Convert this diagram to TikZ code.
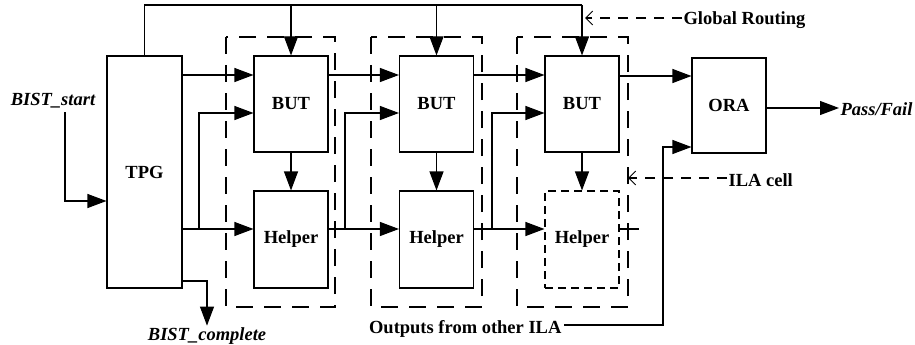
\documentclass[tikz,border=0pt]{standalone}
\usepackage{fontspec}
\setmainfont{Liberation Serif}
\usetikzlibrary{arrows.meta}
\begin{document}
\begin{tikzpicture}[x=1pt,y=-1pt,
  line width=1.1pt,
  txt/.style={font=\bfseries\fontsize{18.5}{22}\selectfont},
  block/.style={draw,rectangle,inner sep=0pt,minimum width=74pt,minimum height=96pt,txt},
  dblock/.style={block,dash pattern=on 8pt off 5pt},
  cell/.style={dash pattern=on 17pt off 11pt},
  arr/.style={-{Triangle[length=19pt,width=14pt]}},
  hint/.style={dash pattern=on 10pt off 8pt,-{Straight Barb[length=7pt,width=14pt,line width=1pt]}},
  lbl/.style={inner sep=1pt,txt},
  ilbl/.style={inner sep=1pt,font=\bfseries\itshape\fontsize{18.5}{22}\selectfont}]
\useasboundingbox (0,0) rectangle (915,345);

% ILA cells
\draw[cell] (226,37) rectangle (335,307);
\draw[cell] (371,37) rectangle (482,307);
\draw[cell] (517,37) rectangle (628,307);

% blocks
\node[block,minimum width=75pt,minimum height=232pt] (TPG) at (144.5,172) {TPG};
\node[block] (BUT1) at (291,104) {BUT};
\node[block] (BUT2) at (436.5,104) {BUT};
\node[block] (BUT3) at (582,104) {BUT};
\node[block,minimum height=97pt] (H1) at (291,239.5) {Helper};
\node[block,minimum height=97pt] (H2) at (436.5,239.5) {Helper};
\node[dblock,minimum height=97pt] (H3) at (582,239.5) {Helper};
\node[block,minimum height=95pt] (ORA) at (729,105.5) {ORA};

% labels
\node[ilbl,anchor=base] (bs) at (53,105) {BIST\_start};
\node[ilbl,anchor=base] (bc) at (207,340) {BIST\_complete};
\node[ilbl,anchor=base west] (pf) at (839,115) {Pass/Fail};
\node[lbl,anchor=base west] (grl) at (682,25) {Global Routing};
\node[lbl,anchor=base west] (ila) at (727,186) {ILA cell};
\node[lbl,anchor=base east] (out) at (563,333) {Outputs from other ILA};

% signal levels
\coordinate (top) at (0,5);
\coordinate (ya) at (0,75);
\coordinate (yb) at (0,113);
\coordinate (yh) at (0,229);
\coordinate (s1) at (199,229);
\coordinate (s2) at (345,229);
\coordinate (s3) at (492,229);
\coordinate (bsin) at (65,112);
\coordinate (ov) at (663,147);
\coordinate (oin) at (564,325);
\coordinate (grt) at (585,18);
\coordinate (ilt) at (628,178);

% global routing
\draw (TPG.north) |- (BUT3.north |- top);
\draw[arr] (BUT1.north |- top) -- (BUT1.north);
\draw[arr] (BUT2.north |- top) -- (BUT2.north);
\draw[arr] (BUT3.north |- top) -- (BUT3.north);

% TPG inputs and outputs
\draw[arr] (bsin) |- (TPG.west |- 0,201);
\draw[arr] (TPG.east |- 0,281) -| (bc.north);

% chain through the cells
\draw[arr] (TPG.east |- ya) -- (BUT1.west |- ya);
\draw[arr] (TPG.east |- yh) -- (H1.west |- yh);
\draw[arr] (s1) |- (BUT1.west |- yb);
\draw[arr] (BUT1.south) -- (H1.north);

\draw[arr] (BUT1.east |- ya) -- (BUT2.west |- ya);
\draw[arr] (H1.east |- yh) -- (H2.west |- yh);
\draw[arr] (s2) |- (BUT2.west |- yb);
\draw[arr] (BUT2.south) -- (H2.north);

\draw[arr] (BUT2.east |- ya) -- (BUT3.west |- ya);
\draw[arr] (H2.east |- yh) -- (H3.west |- yh);
\draw[arr] (s3) |- (BUT3.west |- yb);
\draw[arr] (BUT3.south) -- (H3.north);
\draw (H3.east |- yh) -- ++(19,0);

% response analysis
\draw[arr] (BUT3.east |- 0,76) -- (ORA.west |- 0,76);
\draw[arr] (oin) -| (ov) -- (ORA.west |- ov);
\draw[arr] (ORA.east |- 0,108) -- (pf.west |- 0,108);

% annotations
\draw[hint] (grl.west |- grt) -- (grt);
\draw[hint] (ila.west |- ilt) -- (ilt);
\end{tikzpicture}
\end{document}
